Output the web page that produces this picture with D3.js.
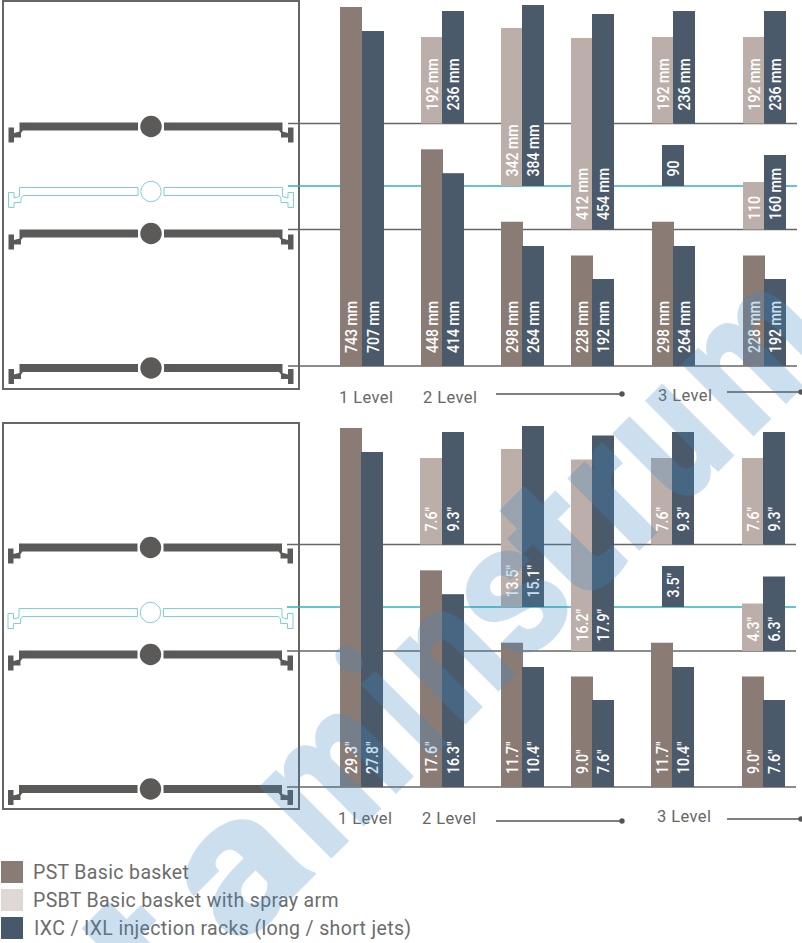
<!DOCTYPE html>
<html>
<head>
<meta charset="utf-8">
<style>
  html, body { margin: 0; padding: 0; background: #fff; }
  svg { display: block; }
</style>
<script src="https://cdnjs.cloudflare.com/ajax/libs/d3/7.8.5/d3.min.js"></script>
</head>
<body>
<div id="chart"></div>
<script>
// values, one entry per column of bars, null where a column has no such bar
const columns = ["1 Level", "2 Level", "3 Level a", "3 Level b", "3 Level c", "3 Level d"];

const pstFloorMm = [743, 448, 298, 228, 298, 228];
const rackFloorMm = [707, 414, 264, 192, 264, 192];
const psbtLowerMm = [null, null, null, 412, null, 110];
const rackLowerMm = [null, null, null, 454, null, 160];
const psbtMiddleMm = [null, null, 342, null, null, null];
const rackMiddleMm = [null, null, 384, null, 90, null];
const psbtUpperMm = [null, 192, null, null, 192, 192];
const rackUpperMm = [null, 236, null, null, 236, 236];

const pstFloorIn = [29.3, 17.6, 11.7, 9.0, 11.7, 9.0];
const rackFloorIn = [27.8, 16.3, 10.4, 7.6, 10.4, 7.6];
const psbtLowerIn = [null, null, null, 16.2, null, 4.3];
const rackLowerIn = [null, null, null, 17.9, null, 6.3];
const psbtMiddleIn = [null, null, 13.5, null, null, null];
const rackMiddleIn = [null, null, 15.1, null, 3.5, null];
const psbtUpperIn = [null, 7.6, null, null, 7.6, 7.6];
const rackUpperIn = [null, 9.3, null, null, 9.3, 9.3];

const legendLabels = ["PST Basic basket", "PSBT Basic basket with spray arm", "IXC / IXL injection racks (long / short jets)"];
const levelLabels = ["1 Level", "2 Level", "3 Level"];
const watermarkLetters = ["t", "a", "m", "i", "n", "s", "t", "r", "u", "m"];

const kWidth = 802;
const kHeight = 943;
const kBarWidth = 22;
const kBrown = "#8a7b75";
const kLight = "#bcafa9";
const kRack = "#4a5a6b";
const kGray = "#5c5a58";
const kTeal = "#2fb5bd";

// the two panels show the same bars, in mm on top and in inches below
const panels = [
  {
    frame: [3, 1, 296, 388],
    rails: [366, 229.5, 186, 123.5],
    baskets: [368, 233.5, 191.5, 126.5],
    railX: 288,
    railEnd: 797,
    cx: 151,
    basketX: [340, 421, 501, 571, 652, 743],
    rackX: [362, 442, 522, 592, 673, 764],
    soloX: 662,
    labels: [339, 423, 658],
    labelY: [403, 403, 401],
    leaders: [[496, 622, 394], [727, 801, 392]],
    text: d => d3.format(".0f")(d) + (d <= 110 ? "" : " mm"),
    tiers: [
      [pstFloorMm, rackFloorMm], [psbtLowerMm, rackLowerMm],
      [psbtMiddleMm, rackMiddleMm], [psbtUpperMm, rackUpperMm]
    ]
  },
  {
    frame: [3, 423, 296, 386],
    rails: [787, 651, 607, 544.5],
    baskets: [789, 654.5, 612.5, 547.5],
    railX: 287,
    railEnd: 796,
    cx: 150.5,
    basketX: [340, 420, 501, 571, 651, 742],
    rackX: [361, 442, 522, 592, 672, 763],
    soloX: 662,
    labels: [338, 422, 657],
    labelY: [824, 824, 822],
    leaders: [[496, 622, 821], [727, 801, 819]],
    text: d => d3.format(".1f")(d) + "″",
    tiers: [
      [pstFloorIn, rackFloorIn], [psbtLowerIn, rackLowerIn],
      [psbtMiddleIn, rackMiddleIn], [psbtUpperIn, rackUpperIn]
    ]
  }
];

// bar lengths are not quite proportional to the printed sizes, so each kind gets its own scale
const pstScale = d3.scaleLinear().domain([0, 228, 743]).range([0, 110.5, 359]);
const rackFloorScale = d3.scaleLinear().domain([192, 264, 707]).range([87, 120, 335]);
const psbtScale = d3.scaleLinear().domain([110, 192, 342, 412]).range([47.5, 86.5, 158, 191.5]);
const rackScale = d3.scaleLinear().domain([90, 160, 236, 384, 454]).range([41, 74.5, 112.5, 181, 215.5]);

// half a basket, drawn left of the centre circle, y relative to the circle centre
const basketHalf = "M-131.5,-4 H-13 V4 H-128 L-130,6.5 V11 H-137 V16 H-142.5 V1 H-137 V6.5 L-131.5,5 Z";

// where each watermark letter starts along its baseline and how wide it runs
const watermarkScale = d3.scaleOrdinal()
  .domain(d3.range(watermarkLetters.length))
  .range([[-612, 72], [-500, 107], [-376, 123], [-232, 26], [-186, 77], [-100, 80], [-20, 66], [59, 52], [124, 76], [221, 123]]);

const svg = d3.select("#chart")
  .append("svg")
  .attr("width", kWidth)
  .attr("height", kHeight);

svg.append("rect").attr("width", kWidth).attr("height", kHeight).attr("fill", "#fff");

function drawBasket(g, x, y, teal)
{
  const basket = g.append("g").attr("transform", `translate(${x},${y})`);
  const fill = teal ? "#fff" : kGray;
  const stroke = teal ? "#7fd0d4" : "none";

  [1, -1].forEach(side => {
    basket.append("path")
      .attr("d", basketHalf)
      .attr("transform", `scale(${side},1)`)
      .attr("fill", fill)
      .attr("stroke", stroke)
      .attr("stroke-width", 1);
  });

  basket.append("circle")
    .attr("r", teal ? 10.2 : 10.7)
    .attr("fill", fill)
    .attr("stroke", stroke)
    .attr("stroke-width", 1);
}

function drawPanel(panel, index)
{
  const g = svg.append("g").attr("class", "panel");

  g.append("rect")
    .attr("x", panel.frame[0])
    .attr("y", panel.frame[1])
    .attr("width", panel.frame[2])
    .attr("height", panel.frame[3])
    .attr("fill", "none")
    .attr("stroke", "#666")
    .attr("stroke-width", 2);

  panel.baskets.forEach((y, i) => drawBasket(g, panel.cx, y, i === 2));

  g.selectAll("line.rail")
    .data(panel.rails)
    .enter()
    .append("line")
    .attr("class", "rail")
    .attr("x1", panel.railX)
    .attr("x2", panel.railEnd)
    .attr("y1", d => d)
    .attr("y2", d => d)
    .attr("stroke", (d, i) => i === 2 ? kTeal : "#666")
    .attr("stroke-width", 1.5);

  // the heights always come from the mm arrays, the labels from the panel's own unit
  const bars = [];
  panels[0].tiers.forEach((tier, t) => {
    tier.forEach((values, s) => {
      values.forEach((v, c) => {
        if (v === null) return;
        const partner = tier[1 - s][c];
        const scale = s === 0 ? (t === 0 ? pstScale : psbtScale) : (t === 0 ? rackFloorScale : rackScale);
        bars.push({
          column: columns[c],
          h: scale(v),
          base: panel.rails[t],
          x: partner === null ? panel.soloX : (s === 0 ? panel.basketX[c] : panel.rackX[c]),
          fill: s === 1 ? kRack : (t === 0 ? kBrown : kLight),
          label: panel.text(panel.tiers[t][s][c]),
          lift: t === 0 ? 13 : (t === 3 ? 13 : 9.5)
        });
      });
    });
  });

  g.selectAll("rect.bar")
    .data(bars)
    .enter()
    .append("rect")
    .attr("class", "bar")
    .attr("x", d => d.x)
    .attr("y", d => d.base - d.h)
    .attr("width", kBarWidth)
    .attr("height", d => d.h)
    .attr("fill", d => d.fill);

  g.selectAll("text.value")
    .data(bars)
    .enter()
    .append("text")
    .attr("class", "value")
    .attr("transform", d => `translate(${d.x + 17},${d.base - d.lift}) rotate(-90) scale(0.88,1)`)
    .attr("fill", "#fff")
    .style("font-family", "Roboto, sans-serif")
    .style("font-weight", 500)
    .style("font-size", "16px")
    .text(d => d.label);

  g.selectAll("text.level")
    .data(levelLabels)
    .enter()
    .append("text")
    .attr("class", "level")
    .attr("x", (d, i) => panel.labels[i])
    .attr("y", (d, i) => panel.labelY[i])
    .attr("fill", "#666")
    .style("font-family", "Roboto, sans-serif")
    .style("font-weight", 400)
    .style("font-size", "16.5px")
    .style("letter-spacing", "0.4px")
    .text(d => d);

  panel.leaders.forEach(l => {
    g.append("line")
      .attr("x1", l[0]).attr("x2", l[1])
      .attr("y1", l[2]).attr("y2", l[2])
      .attr("stroke", "#555")
      .attr("stroke-width", 1.5);
    g.append("circle")
      .attr("cx", l[1]).attr("cy", l[2]).attr("r", 2.7)
      .attr("fill", "#555");
  });
}

panels.forEach(drawPanel);

const legendColors = [kBrown, "#dfd8d5", "#46586b"];
const legendY = d3.scalePoint().domain(legendLabels).range([861, 917]);

const legend = svg.selectAll("g.legend")
  .data(legendLabels)
  .enter()
  .append("g")
  .attr("class", "legend");

legend.append("rect")
  .attr("x", 1)
  .attr("y", d => legendY(d))
  .attr("width", 22)
  .attr("height", 22)
  .attr("fill", (d, i) => legendColors[i]);

legend.append("text")
  .attr("x", (d, i) => i === 2 ? 34 : 33)
  .attr("y", d => legendY(d) + 18)
  .attr("fill", "#6c6c6c")
  .style("font-family", "Roboto, sans-serif")
  .style("font-weight", 400)
  .style("font-size", "19.5px")
  .style("letter-spacing", "0.35px")
  .text(d => d);

// site watermark running across the whole picture, baseline at 45 degrees
const watermark = svg.append("g")
  .attr("transform", "translate(595,595) rotate(-45)")
  .attr("opacity", 0.26)
  .attr("fill", "#3b88c5")
  .style("font-family", "Roboto, sans-serif")
  .style("font-weight", 900)
  .style("font-size", "193px");

watermark.selectAll("text")
  .data(watermarkLetters)
  .enter()
  .append("text")
  .attr("x", (d, i) => watermarkScale(i)[0] - 4)
  .attr("textLength", (d, i) => watermarkScale(i)[1] + 8)
  .attr("lengthAdjust", "spacingAndGlyphs")
  .text(d => d);
</script>
</body>
</html>
